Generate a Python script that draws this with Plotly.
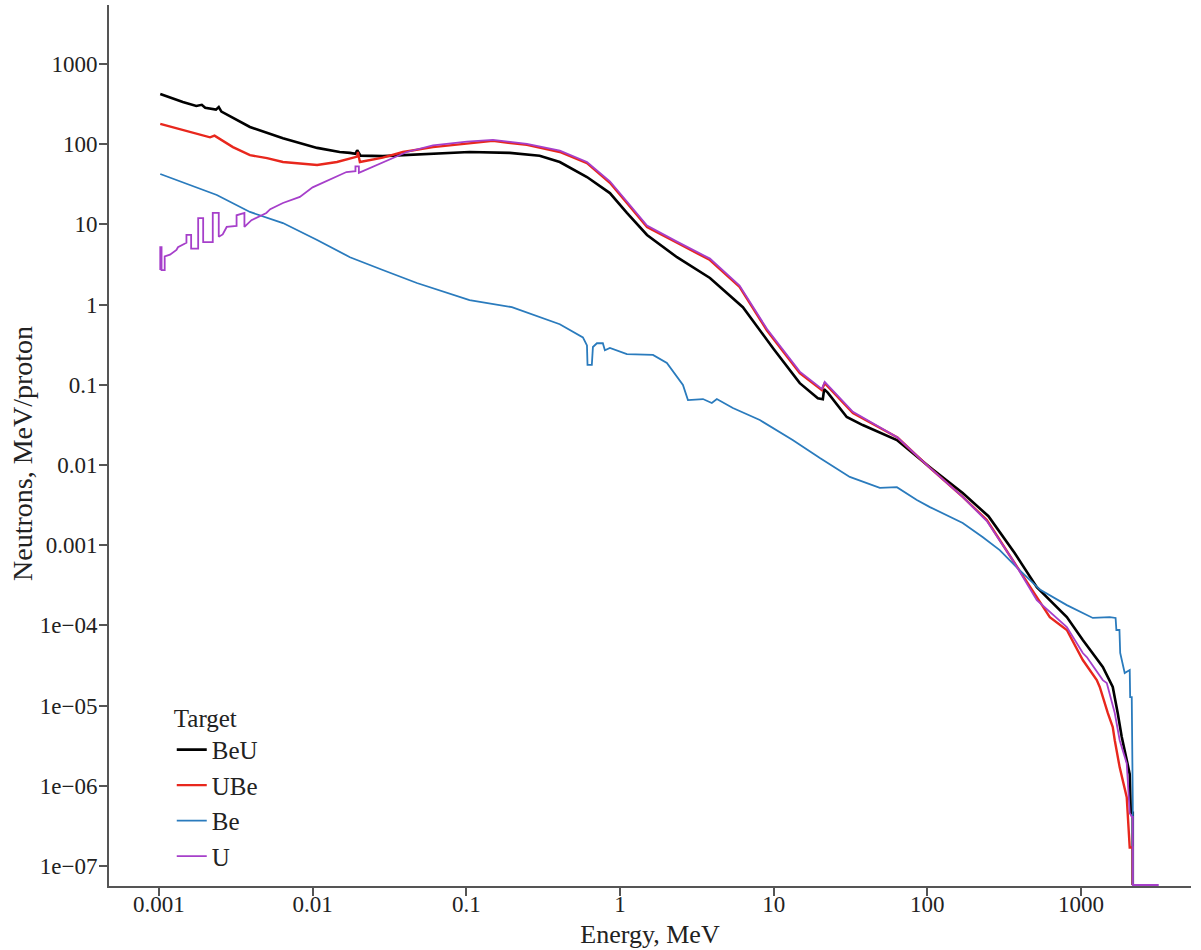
import plotly.graph_objects as go

FLOOR = 5.8e-8

# ---- BeU (black) ----
beu_E = [0.00102, 0.00143, 0.00175, 0.00190, 0.00200, 0.00235, 0.00245, 0.00255, 0.00391, 0.00641,
         0.0107, 0.0150, 0.0175, 0.0190, 0.0195, 0.0205, 0.0286, 0.0477, 0.105, 0.192, 0.30, 0.406,
         0.61, 0.86, 1.11, 1.50, 2.35, 3.85, 6.31, 10.0, 14.8, 19.4, 20.9, 21.3, 22.5, 29.9, 38.0,
         63.4, 104, 170, 250, 370, 516, 809, 1028, 1387, 1610, 1734, 1841, 1985, 2076, 2110, 2173, 2173]
beu_V = [423, 336, 300, 310, 285, 270, 290, 255, 164, 119,
         90, 80, 78, 76, 84, 72, 71, 74, 80, 78, 72, 60,
         39, 24.6, 13.9, 7.4, 3.9, 2.15, 0.93, 0.28, 0.105, 0.068, 0.066, 0.088, 0.080, 0.0397, 0.0315,
         0.0205, 0.0094, 0.00448, 0.0023, 0.0008, 0.00030, 0.000127, 0.0000658, 0.0000303, 0.0000171,
         0.0000081, 0.0000041, 0.0000021, 0.0000014, 4.6e-7, 4.6e-7, FLOOR]

# ---- UBe (red) ----
ube_E = [0.00102, 0.00143, 0.00185, 0.00215, 0.00230, 0.00245, 0.00303, 0.00391, 0.00505, 0.00641,
         0.00826, 0.0107, 0.0144, 0.0175, 0.0195, 0.0197, 0.0203, 0.0286, 0.0387, 0.0607, 0.101,
         0.149, 0.248, 0.406, 0.61, 0.86, 1.11, 1.50, 2.35, 3.85, 6.0, 9.03, 14.8, 20.6, 21.5, 32.8,
         64.0, 104, 170, 244, 360, 516, 627, 809, 1028, 1267, 1325, 1494, 1610, 1659, 1786, 1985,
         2076, 2173, 2173]
ube_V = [179, 150, 130, 122, 128, 118, 92, 73, 67, 60,
         58, 55, 60, 67, 70, 80, 60, 68, 80, 92, 103,
         110, 98, 80, 58, 33, 18.5, 9.3, 5.9, 3.6, 1.66, 0.48, 0.14, 0.086, 0.105, 0.0445,
         0.022, 0.0092, 0.0040, 0.00206, 0.00065, 0.000226, 0.000127, 0.0000877, 0.000037,
         0.0000208, 0.0000171, 0.0000081, 0.0000054, 0.0000037, 0.0000017, 7.2e-7,
         1.7e-7, 1.7e-7, FLOOR]

# ---- Be (blue) ----
be_E = [0.00102, 0.00238, 0.00391, 0.00641, 0.0107, 0.0175, 0.0286, 0.0477, 0.105, 0.198, 0.406,
        0.574, 0.61, 0.615, 0.656, 0.66, 0.667, 0.708, 0.774, 0.798, 0.86, 1.11, 1.64, 2.02, 2.57,
        2.77, 3.47, 3.96, 4.27, 5.43, 8.13, 13.3, 20.0, 31.3, 49.1, 63.4, 85.5, 104, 140, 170, 230,
        296, 382, 540, 809, 1194, 1538, 1680, 1700, 1780, 1800, 1926, 2076, 2090, 2140, 2173, 2173]
be_V = [42.5, 23.3, 14.3, 10.4, 6.4, 3.9, 2.7, 1.86, 1.14, 0.93, 0.57,
        0.39, 0.31, 0.177, 0.177, 0.296, 0.296, 0.33, 0.33, 0.27, 0.288, 0.242, 0.236, 0.187, 0.0995,
        0.0646, 0.0665, 0.0593, 0.0665, 0.0514, 0.0364, 0.0205, 0.0122, 0.0071, 0.0052, 0.0053,
        0.00366, 0.00299, 0.00225, 0.00189, 0.00126, 0.00087, 0.00053, 0.00028, 0.000179,
        0.000124, 0.000127, 0.000124, 0.0000877, 0.0000877, 0.0000453, 0.0000255, 0.0000278,
        0.0000128, 0.0000128, 6.1e-7, FLOOR]

# ---- U (purple) ----
u_E = [0.00102, 0.00102, 0.00104, 0.00104, 0.00109, 0.00109, 0.00118, 0.00130, 0.00133, 0.00151,
       0.00151, 0.00162, 0.00162, 0.00180, 0.00180, 0.00194, 0.00194, 0.00224, 0.00224, 0.00245,
       0.00245, 0.00260, 0.00276, 0.00320, 0.00320, 0.00360, 0.00360, 0.00400, 0.00500, 0.00530,
       0.00641, 0.00826, 0.0100, 0.0130, 0.0166, 0.0190, 0.0190, 0.0200, 0.0200, 0.041, 0.0607,
       0.101, 0.149, 0.248, 0.406, 0.61, 0.86, 1.11, 1.50, 2.35, 3.85, 6.0, 9.03, 14.8, 20.6, 21.5,
       32.8, 64.0, 104, 170, 244, 360, 516, 809, 1028, 1091, 1387, 1472, 1610, 1659, 1786, 1841,
       1985, 2076, 2140, 2173, 2173, 3206]
u_V = [2.7, 5.2, 5.2, 2.7, 2.7, 4.0, 4.2, 4.8, 5.2, 5.9,
       7.4, 7.4, 5.0, 5.0, 12.0, 12.0, 6.0, 6.0, 13.9, 13.9,
       7.0, 7.5, 9.3, 9.6, 13.0, 13.9, 9.3, 11.3, 13.9, 15.5,
       18.5, 22, 29, 36, 45, 46, 53, 53, 44, 80, 97,
       108, 113, 101, 83, 60, 34.5, 19.3, 9.7, 6.1, 3.75, 1.73, 0.50, 0.146, 0.089, 0.109,
       0.046, 0.022, 0.0092, 0.0040, 0.0020, 0.00065, 0.000207, 0.0000955, 0.0000453, 0.0000404,
       0.0000208, 0.0000191, 0.0000096, 0.0000081, 0.0000037, 0.0000030,
       0.0000019, 4.6e-7, 4.1e-7, 4.1e-7, FLOOR, FLOOR]

series = [
    ("BeU", beu_E, beu_V, "#000000", 2.6),
    ("UBe", ube_E, ube_V, "#e8271d", 2.4),
    ("Be", be_E, be_V, "#2a7bbd", 1.8),
    ("U", u_E, u_V, "#a63fca", 1.8),
]

x_ticks = [0.001, 0.01, 0.1, 1, 10, 100, 1000]
x_ticktext = ["0.001", "0.01", "0.1", "1", "10", "100", "1000"]
y_ticks = [1e-7, 1e-6, 1e-5, 1e-4, 1e-3, 1e-2, 0.1, 1, 10, 100, 1000]
y_ticktext = ["1e\u221207", "1e\u221206", "1e\u221205", "1e\u221204", "0.001", "0.01", "0.1",
              "1", "10", "100", "1000"]

FONT = "Liberation Serif, Times New Roman, serif"

fig = go.Figure()
for name, E, V, color, w in series:
    fig.add_trace(go.Scatter(x=E, y=V, mode="lines", name=name,
                             line=dict(color=color, width=w)))

axis_common = dict(showline=True, linecolor="#555555", linewidth=2, ticks="outside",
                   ticklen=8, tickwidth=1.5, tickcolor="#555555", showgrid=False,
                   zeroline=False, automargin=False,
                   tickfont=dict(family=FONT, size=23, color="#222222"))

fig.update_layout(
    width=1201, height=950,
    margin=dict(l=109, r=10, t=5, b=64),
    paper_bgcolor="white", plot_bgcolor="white",
    font=dict(family=FONT, color="#222222"),
    xaxis=dict(type="log", range=[-3.325, 3.716], tickvals=x_ticks, ticktext=x_ticktext,
               ticklabelstandoff=-12,
               title=dict(text="Energy, MeV", font=dict(family=FONT, size=26), standoff=9),
               **axis_common),
    yaxis=dict(type="log", range=[-7.249, 3.736], tickvals=y_ticks, ticktext=y_ticktext,
               ticklabelstandoff=-3,
               **axis_common),
    legend=dict(x=0.058, y=0.2175, xanchor="left", yanchor="top",
                title=dict(text="Target", font=dict(family=FONT, size=25)),
                font=dict(family=FONT, size=25, color="#222222"),
                bgcolor="rgba(0,0,0,0)", itemwidth=30, tracegroupgap=0),
    showlegend=True,
    annotations=[dict(text="Neutrons, MeV/proton", xref="paper", yref="paper",
                      x=-(109 - 23) / 1082, y=0.4915, xanchor="center", yanchor="middle",
                      textangle=-90, showarrow=False,
                      font=dict(family=FONT, size=28, color="#222222"))],
)

fig.write_html("out.html", config={"displayModeBar": False},
               post_script="document.body.style.margin='0';document.body.style.padding='0';")
